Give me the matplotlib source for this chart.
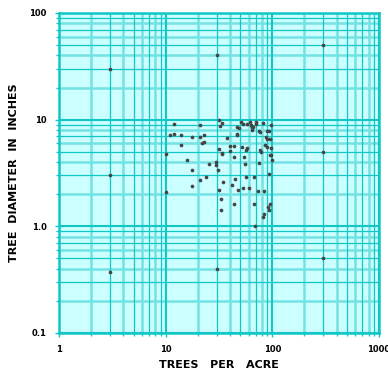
import matplotlib
matplotlib.use("Agg")
import matplotlib.pyplot as plt
from matplotlib.ticker import FixedLocator, FixedFormatter, NullFormatter

# ---- data ----
trees_per_acre = [
    3, 3, 3, 30, 30, 300, 300, 300,
    10, 10, 11.9, 10.9, 11.9, 13.9, 13.9, 15.9, 17.8, 20.8, 21.0, 22.9,
    21.9, 22.9, 17.8, 17.8, 21.0, 23.9, 25.6, 29.8, 29.8, 30.7,
    31.8, 33.7, 32.0, 37.6, 31.8, 33.6, 33.7, 40.4, 43.9, 40.5,
    44.0, 34.7, 31.8, 32.8, 32.8, 43.9, 44.7, 41.9, 47.6, 53.4,
    59.8, 56.4, 67.8, 54.6, 56.0, 51.7, 57.6, 56.6, 46.6, 46.8,
    46.6, 48.7, 50.5, 52.7, 58.2, 61.7, 63.1, 64.0, 65.9, 64.9,
    70.3, 70.7, 81.2, 97.8, 75.0, 76.6, 89.1, 93.6, 87.8, 89.7,
    95.1, 85.3, 89.7, 97.1, 76.6, 78.8, 94.5, 97.1, 98.6, 75.5,
    93.6, 73.9, 83.0, 67.8, 94.5, 90.5, 93.6, 83.5, 81.7, 69.2,
]
tree_diameter = [
    30, 3, 0.37, 40, 0.40, 50, 5, 0.5,
    4.73, 2.11, 9.17, 7.14, 7.34, 7.14, 5.75, 4.21, 6.88, 6.88, 8.97, 7.14,
    6.08, 6.17, 3.41, 2.40, 2.71, 2.91, 3.84, 4.01, 3.73, 3.41,
    9.88, 9.27, 8.78, 6.69, 5.31, 4.92, 4.73, 5.64, 5.64, 5.03,
    4.45, 2.62, 2.20, 1.80, 1.41, 1.61, 2.80, 2.44, 2.20, 2.30,
    2.30, 2.91, 2.91, 4.44, 3.84, 5.52, 5.40, 5.14, 7.34, 7.15,
    8.59, 8.44, 9.61, 9.05, 9.05, 9.45, 8.91, 8.54, 8.54, 7.95,
    9.45, 9.05, 9.37, 8.97, 7.88, 7.61, 7.83, 7.83, 6.88, 6.63,
    6.63, 5.75, 5.54, 5.42, 5.19, 5.01, 4.63, 4.63, 4.21, 3.92,
    3.11, 2.13, 2.13, 1.61, 1.61, 1.51, 1.41, 1.30, 1.22, 1.00,
]
x_ticks = [1, 10, 100, 1000]
x_tick_labels = ["1", "10", "100", "1000"]
y_ticks = [0.1, 1, 10, 100]
y_tick_labels = ["0.1", "1.0", "10", "100"]
x_label = "TREES   PER   ACRE"
y_label = "TREE  DIAMETER  IN  INCHES"

# ---- style ----
BG = "#ccffff"
DARK = "#12c6c6"
LIGHT = "#74e2e2"
POINT = "#444444"

fig = plt.figure(figsize=(3.88, 3.71), dpi=100)
ax = fig.add_axes([59 / 388, 38 / 371, 320 / 388, 320 / 371])
ax.set_xscale("log")
ax.set_yscale("log")
ax.set_xlim(1, 1000)
ax.set_ylim(0.1, 100)
ax.set_facecolor(BG)

# graph-paper grid
def minor_positions(lo_exp, hi_exp):
    out = []
    for e in range(lo_exp, hi_exp):
        for m in range(2, 10):
            out.append((m, m * 10.0 ** e))
    return out

for m, v in minor_positions(0, 3):
    if m % 2 == 0:
        ax.axvline(v, color=LIGHT, lw=1.8, zorder=1)
    else:
        ax.axvline(v, color=DARK, lw=0.9, zorder=1.2)
for m, v in minor_positions(-1, 2):
    if m % 2 == 0:
        ax.axhline(v, color=LIGHT, lw=1.8, zorder=1)
    else:
        ax.axhline(v, color=DARK, lw=0.9, zorder=1.2)
for v in x_ticks:
    ax.axvline(v, color=DARK, lw=1.5, zorder=1.3)
for v in y_ticks:
    ax.axhline(v, color=DARK, lw=1.5, zorder=1.3)

ax.scatter(trees_per_acre, tree_diameter, s=7, color=POINT, zorder=3,
           linewidths=0)

for sp in ax.spines.values():
    sp.set_color(DARK)
    sp.set_linewidth(1.8)
    sp.set_zorder(4)

ax.xaxis.set_major_locator(FixedLocator(x_ticks))
ax.xaxis.set_major_formatter(FixedFormatter(x_tick_labels))
ax.yaxis.set_major_locator(FixedLocator(y_ticks))
ax.yaxis.set_major_formatter(FixedFormatter(y_tick_labels))
ax.xaxis.set_minor_formatter(NullFormatter())
ax.yaxis.set_minor_formatter(NullFormatter())
ax.tick_params(which="both", direction="out", color=DARK, width=1.0)
ax.tick_params(which="major", length=3, pad=6, labelsize=6,
               labelcolor="black")
ax.tick_params(which="minor", length=2)
for lab in ax.get_xticklabels() + ax.get_yticklabels():
    lab.set_fontweight("bold")

ax.set_xlabel(x_label, fontsize=8, fontweight="bold", labelpad=4)
ax.set_ylabel(y_label, fontsize=8, fontweight="bold", labelpad=7)

fig.savefig("out.png", dpi=100)
